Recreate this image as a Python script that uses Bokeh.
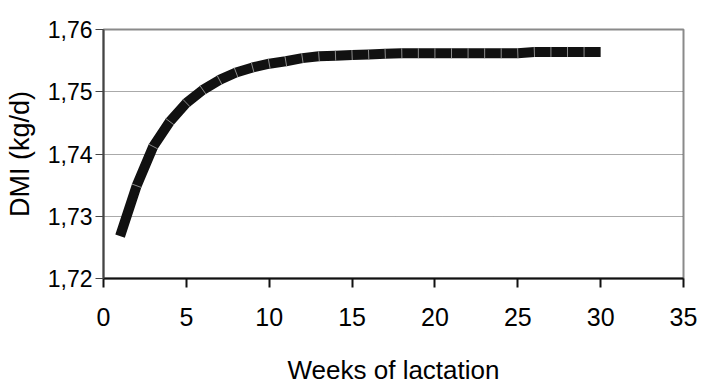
import numpy as np
from bokeh.plotting import figure
from bokeh.models import FixedTicker, CustomJSTickFormatter, Range1d
from bokeh.embed import file_html
from bokeh.resources import INLINE

weeks = list(range(1, 31))
dmi = [1.7268, 1.7349, 1.7412, 1.7452, 1.7482, 1.7503, 1.7519, 1.7531, 1.7539, 1.7545,
       1.7549, 1.7554, 1.7557, 1.7558, 1.7559, 1.7560, 1.7561, 1.7562, 1.7562, 1.7562,
       1.7562, 1.7562, 1.7562, 1.7562, 1.7562, 1.7564, 1.7564, 1.7564, 1.7564, 1.7564]
x_ticks = [0, 5, 10, 15, 20, 25, 30, 35]
y_ticks = [1.72, 1.73, 1.74, 1.75, 1.76]

FONT = "Liberation Sans"

p = figure(width=703, height=387, output_backend="svg", toolbar_location=None,
           x_range=Range1d(0, 35), y_range=Range1d(1.72, 1.76),
           min_border_left=103, min_border_right=20, min_border_top=29,
           min_border_bottom=108)

p.outline_line_color = "#8a8a8a"
p.outline_line_width = 2
p.background_fill_color = "white"
p.border_fill_color = "white"

p.xgrid.visible = False
p.ygrid.ticker = FixedTicker(ticks=y_ticks)
p.ygrid.grid_line_color = "#555555"
p.ygrid.grid_line_width = 1
p.ygrid.grid_line_dash = "1 1"

# main line
p.line(weeks, dmi, line_width=10, line_color="#111111", line_join="round", line_cap="butt")

# thin separators at data points (Excel marker edges), perpendicular to the line
sx = 580 / 35.0
sy = 250 / 0.04
w = np.array(weeks, dtype=float)
d = np.array(dmi, dtype=float)
slope = np.gradient(d * sy, w * sx)
ang = np.arctan(slope) + np.pi / 2
p.scatter(weeks[1:-1], dmi[1:-1], marker="dash", angle=ang[1:-1], size=10,
          line_color="#8c8c8c", line_width=1)

xa = p.xaxis[0]
xa.ticker = FixedTicker(ticks=x_ticks)
xa.axis_line_color = "#111111"
xa.axis_line_width = 2
xa.major_tick_out = 9
xa.major_tick_in = 0
xa.minor_tick_out = 0
xa.minor_tick_in = 0
xa.major_tick_line_color = "#111111"
xa.major_tick_line_width = 2
xa.major_label_text_font = FONT
xa.major_label_text_font_size = "25px"
xa.major_label_text_color = "black"
xa.major_label_standoff = 20
xa.axis_label = "Weeks of lactation"
xa.axis_label_text_font = FONT
xa.axis_label_text_font_size = "26px"
xa.axis_label_text_font_style = "normal"
xa.axis_label_text_color = "black"
xa.axis_label_standoff = 26

ya = p.yaxis[0]
ya.ticker = FixedTicker(ticks=y_ticks)
ya.formatter = CustomJSTickFormatter(code="return tick.toFixed(2).replace('.', ',');")
ya.axis_line_color = "#444444"
ya.axis_line_width = 2
ya.major_tick_out = 8
ya.major_tick_in = 0
ya.minor_tick_out = 0
ya.minor_tick_in = 0
ya.major_tick_line_color = "#444444"
ya.major_tick_line_width = 1
ya.major_label_text_font = FONT
ya.major_label_text_font_size = "23px"
ya.major_label_text_color = "black"
ya.major_label_standoff = 3
ya.axis_label = "DMI (kg/d)"
ya.axis_label_text_font = FONT
ya.axis_label_text_font_size = "27px"
ya.axis_label_text_font_style = "normal"
ya.axis_label_text_color = "black"
ya.axis_label_standoff = 10

open("out.html", "w").write(file_html(p, INLINE))
